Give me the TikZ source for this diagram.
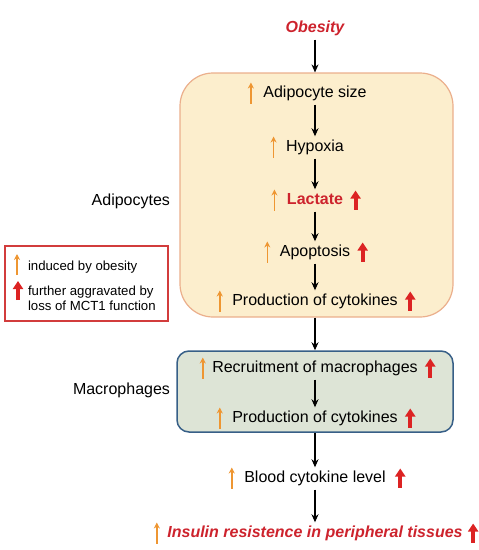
\documentclass[tikz,border=0pt]{standalone}
\usepackage{fontspec}
\setmainfont{Liberation Sans}
\usetikzlibrary{
		arrows.meta,
		positioning
	}
\definecolor{obesered}{RGB}{205,35,45}
\definecolor{orangeup}{RGB}{238,150,50}
\definecolor{redup}{RGB}{220,35,35}
\definecolor{adipofill}{RGB}{252,238,205}
\definecolor{adipodraw}{RGB}{235,175,140}
\definecolor{macrofill}{RGB}{221,228,214}
\definecolor{macrodraw}{RGB}{55,95,135}
\definecolor{legendred}{RGB}{210,60,60}
\tikzset{
		>={Stealth[length=8pt,width=7pt]},
		steptext/.style={font=\fontsize{16}{19}\selectfont, text height=11.8pt, text depth=3.6pt},
		hottext/.style={steptext, text=obesered, font=\fontsize{16}{19}\selectfont\bfseries\itshape},
		legendtext/.style={font=\fontsize{13.2}{15}\selectfont, align=left, anchor=west},
		incr/.pic={\draw[orangeup, line width=1.5pt, -{Stealth[length=6pt,width=6pt]}] (0,10) -- (0,-11);},
		aggr/.pic={\draw[redup, line width=4pt, -{Triangle[length=8pt,width=10pt]}] (0,9) -- (0,-10);}
	}
\begin{document}
\begin{tikzpicture}[x=1pt,y=-1pt]
    \useasboundingbox (0,0) rectangle (479,550);

    % draw the boxes
    \node (adipo) [draw=adipodraw, fill=adipofill, line width=1.2pt, rounded corners=33pt,
        minimum width=273pt, minimum height=244pt] at (316.5,195) {};
    \node (macro) [draw=macrodraw, fill=macrofill, line width=1.5pt, rounded corners=12pt,
        minimum width=276pt, minimum height=81pt] at (315,391.5) {};

    % the texts
    \node[steptext, anchor=east] (adipocytes) at (173.5,201.5) {Adipocytes};
    \node[steptext, anchor=east] (macrophages) at (173.5,390.5) {Macrophages};

    % the steps (the arrows next to them are pics placed at the node sides)
    \node[hottext] (obesity) at (315,28.5) {Obesity};
    \node[steptext] (size) at (315,93.5) {Adipocyte size};
    \node[steptext] (hypoxia) at (315,147.5) {Hypoxia};
    \node[steptext, font=\fontsize{16}{19}\selectfont\bfseries, text=obesered] (lactate) at (315,200.5) {Lactate};
    \node[steptext] (apoptosis) at (315,252.5) {Apoptosis};
    \node[steptext] (cyto1) at (315,301.5) {Production of cytokines};
    \node[steptext] (recruit) at (315,368.5) {Recruitment of macrophages};
    \node[steptext] (cyto2) at (315,418.5) {Production of cytokines};
    \node[steptext] (blood) at (315,478.5) {Blood cytokine level};
    \node[hottext] (insulin) at (315,533.5) {Insulin resistence in peripheral tissues};

    \pic at ([xshift=-9pt]size.west) {incr};
    \pic at ([xshift=-9pt]hypoxia.west) {incr};
    \pic at ([xshift=-9pt]lactate.west) {incr};
    \pic at ([xshift=9pt]lactate.east) {aggr};
    \pic at ([xshift=-9pt]apoptosis.west) {incr};
    \pic at ([xshift=9pt]apoptosis.east) {aggr};
    \pic at ([xshift=-9pt]cyto1.west) {incr};
    \pic at ([xshift=9pt]cyto1.east) {aggr};
    \pic at ([xshift=-6pt]recruit.west) {incr};
    \pic at ([xshift=9pt]recruit.east) {aggr};
    \pic at ([xshift=-9pt]cyto2.west) {incr};
    \pic at ([xshift=9pt]cyto2.east) {aggr};
    \pic at ([xshift=-9pt]blood.west) {incr};
    \pic at ([xshift=11pt]blood.east) {aggr};
    \pic at ([xshift=-7pt]insulin.west) {incr};
    \pic at ([xshift=7pt]insulin.east) {aggr};

    % the legend
    \node (legend) [draw=legendred, line width=1.5pt, minimum width=163pt, minimum height=75pt] at (86.5,283.5) {};
    \node[legendtext] (induced) at (24.5,267.5) {induced by obesity};
    \node[legendtext] (aggravated) at (24.5,298.5) {further aggravated by\\loss of MCT1 function};
    \pic at (17,265) {incr};
    \pic at (18,291) {aggr};

    % draw the arrows
    \draw[->, line width=1.1pt] (obesity) -- (obesity |- adipo.north);
    \draw[->, line width=1.1pt] (size) -- (hypoxia);
    \draw[->, line width=1.1pt] (hypoxia) -- (lactate);
    \draw[->, line width=1.1pt] (lactate) -- (apoptosis);
    \draw[->, line width=1.1pt] (apoptosis) -- (cyto1);
    \draw[->, line width=1.1pt] (macro.north |- adipo.south) -- (macro.north);
    \draw[->, line width=1.1pt] (recruit) -- (cyto2);
    \draw[->, line width=1.1pt] (macro.south) -- (blood);
    \draw[->, line width=1.1pt] (blood) -- (insulin);

\end{tikzpicture}
\end{document}
